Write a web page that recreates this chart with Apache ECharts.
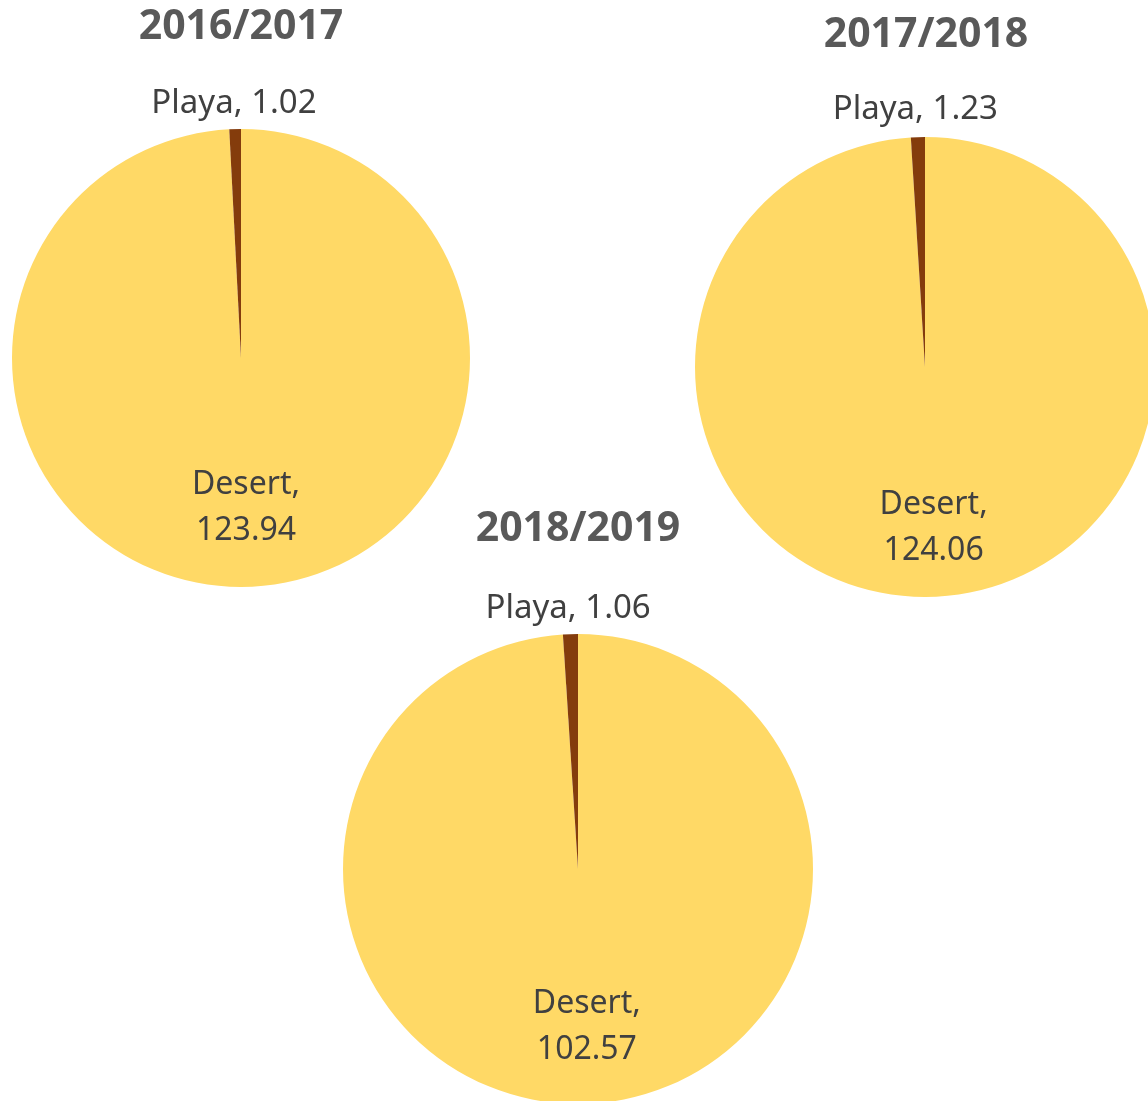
<!DOCTYPE html>
<html>
<head>
<meta charset="utf-8">
<title>Desert / Playa</title>
<script src="https://cdn.jsdelivr.net/npm/echarts@6/dist/echarts.min.js"></script>
<style>
  html, body { margin: 0; padding: 0; background: #fff; }
  #chart { width: 1148px; height: 1101px; }
</style>
</head>
<body>
<div id="chart"></div>
<script>
const years = ['2016/2017', '2017/2018', '2018/2019']
const categories = ['Desert', 'Playa']
const desertValues = [123.94, 124.06, 102.57]
const playaValues = [1.02, 1.23, 1.06]

// layout per pie (pixels)
const centers = [[241, 358], [925, 367], [578, 869]]
const radii = [229, 230, 235]
const titlePos = [[236, 2], [921, 10], [573, 504]]
const desertOffsets = [[2, 32], [5, 43], [5, 37]]
const playaOffsets = [[-4, -137], [-6, -139], [-6, -140]]

const yellow = '#FFD966'
const brown = '#843C0C'
const font = '"Noto Sans", "Open Sans", sans-serif'

const chart = echarts.init(document.getElementById('chart'))

const titles = years.map((y, i) => ({
  text: y,
  left: titlePos[i][0],
  top: titlePos[i][1],
  textAlign: 'center',
  textStyle: {
    fontFamily: font,
    fontSize: 41,
    fontWeight: 'bold',
    color: '#595959',
    lineHeight: 41
  }
}))

const series = years.map((y, i) => ({
  name: y,
  type: 'pie',
  center: centers[i],
  radius: radii[i],
  startAngle: 90,
  clockwise: true,
  silent: true,
  emphasis: { disabled: true },
  labelLine: { show: false },
  itemStyle: { borderWidth: 0 },
  data: [
    {
      name: categories[0],
      value: desertValues[i],
      itemStyle: { color: yellow },
      label: {
        show: true,
        position: 'inside',
        offset: desertOffsets[i],
        formatter: p => p.name + ',\n' + p.value.toFixed(2),
        fontFamily: font,
        fontSize: 32,
        lineHeight: 46,
        color: '#404040'
      }
    },
    {
      name: categories[1],
      value: playaValues[i],
      itemStyle: { color: brown },
      label: {
        show: true,
        position: 'inside',
        offset: playaOffsets[i],
        formatter: p => p.name + ', ' + p.value.toFixed(2),
        fontFamily: font,
        fontSize: 33,
        color: '#404040'
      }
    }
  ]
}))

chart.setOption({
  animation: false,
  backgroundColor: '#fff',
  title: titles,
  series: series
})
</script>
</body>
</html>
